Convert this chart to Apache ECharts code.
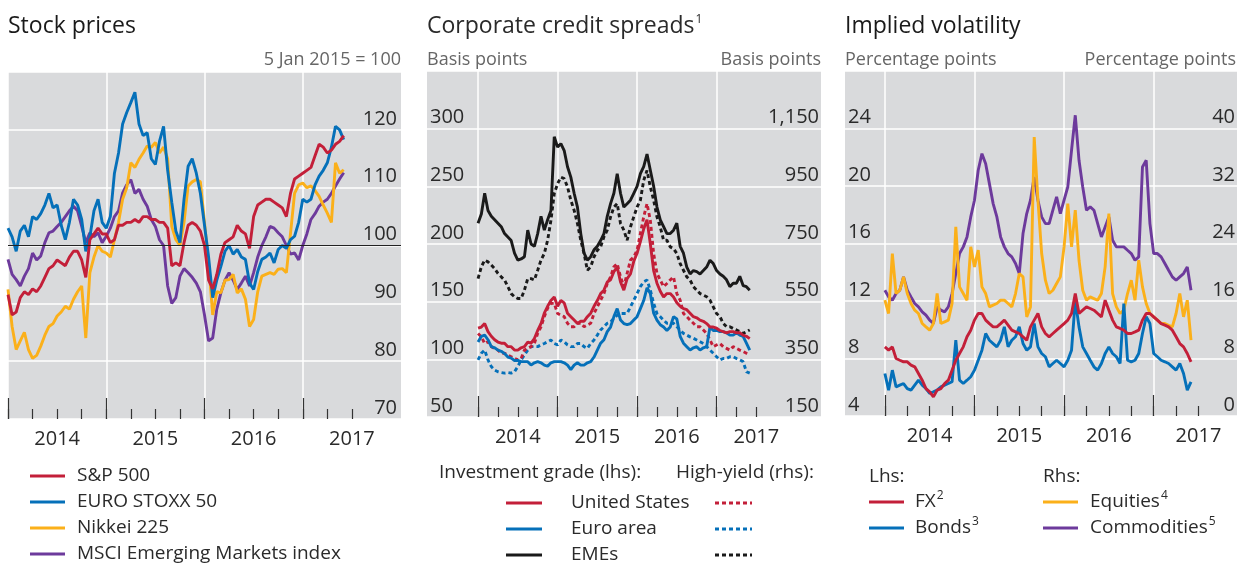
<!DOCTYPE html>
<html>
<head>
<meta charset="utf-8">
<title>Stock prices, credit spreads, implied volatility</title>
<script src="https://cdn.jsdelivr.net/npm/echarts@6/dist/echarts.min.js"></script>
<style>
  html, body { margin: 0; padding: 0; background: #fff; }
  #chart { width: 1238px; height: 563px; }
</style>
</head>
<body>
<div id="chart"></div>
<script>
// half-monthly readings, first value = 1 Jan 2014, last = 1 Jun 2017
var startYear = 2014;
var stepYears = 1 / 24;

// stock prices, 5 Jan 2015 = 100
var sp500 = [91.5, 88, 88.5, 91, 92, 91.5, 92.5, 92, 93, 94.5,
  96, 96.5, 97.5, 97, 96.5, 98, 99, 99, 97.5, 94.5,
  101, 102, 103, 102, 102, 100.5, 101, 103.5, 103.5, 104,
  104, 104.5, 104, 105, 105, 104.5, 104.5, 104, 104, 103,
  96.5, 97, 96.5, 100.5, 103.5, 104, 103.5, 102.5, 100, 94,
  92.5, 95, 98.5, 100.5, 101, 101.5, 103.5, 102.5, 102, 99.5,
  105, 107, 107.5, 108, 108, 107.5, 107, 106.5, 105, 109,
  111.5, 112, 112.5, 113, 113.5, 115.5, 117.5, 117, 116, 116.5,
  117.5, 118, 119];
var euroStoxx = [103, 101.5, 99, 102.5, 103.5, 101.5, 105, 104.5, 105.5, 107,
  109, 106.5, 107, 103.5, 101, 104, 108, 107, 104.5, 99,
  101.5, 106, 108, 104, 103, 105, 112.5, 116, 121, 123,
  124.7, 126.5, 121, 119, 119.5, 115, 114, 118, 120.6, 113,
  107.5, 102.5, 100.5, 108, 113.7, 115, 112.5, 109, 103.5, 98,
  91, 94, 96.4, 99, 100, 98.5, 99.3, 98, 97.6, 93.5,
  92.4, 95.5, 97.6, 98, 98.7, 97, 99.3, 100, 99.5, 101,
  101.6, 104, 108, 107.5, 108, 110.5, 112, 113, 114.3, 117,
  120.6, 120, 118.3];
var nikkei = [92.4, 86, 82, 83.5, 85, 82, 80.5, 81, 82.6, 84.5,
  86, 86.5, 87.8, 88.5, 89.5, 89, 90.7, 92, 93, 84,
  95.3, 98, 100, 99, 98.7, 98, 101, 104, 108, 110,
  114.3, 113.5, 114.9, 116, 117.2, 117, 117.8, 116, 117, 115,
  103.3, 101, 100, 104, 110.3, 111, 111.4, 111, 104, 97,
  88, 92, 91.8, 94, 94.1, 95, 91.8, 92.5, 90.7, 86,
  87.2, 92, 94.7, 95, 95.3, 95, 95.9, 96, 95.3, 102,
  109, 110.5, 110.8, 110, 110.3, 109.5, 108.5, 107, 105.6, 104,
  114.3, 112.5, 113.1];
var msciEm = [97.6, 95, 94.1, 93, 94.7, 96, 98.7, 97.5, 98.2, 100.5,
  102.2, 102.5, 103.3, 104, 105, 106, 106.8, 106, 103.3, 100.5,
  102.2, 101.5, 102.2, 100.5, 101.6, 103, 105, 106, 109.1, 110.5,
  111.4, 109, 109.7, 108, 106.8, 104.5, 103.3, 101, 100, 93,
  90, 91, 94.7, 96, 95.3, 94.5, 93.5, 92, 88, 83.5,
  84, 89, 91.8, 94, 95.3, 94, 92.4, 93.5, 94.7, 93,
  95.3, 98, 100, 101.5, 103.3, 103, 102.2, 101.5, 100, 98.5,
  98.7, 97.5, 100, 102, 104.5, 105.5, 106.8, 107.5, 108, 109,
  110.3, 111.5, 112.6];

// credit spreads, investment grade (lhs, bp)
var usIG = [127, 128, 131, 124, 120, 117, 115, 114, 114, 111,
  111, 108, 108, 110, 111, 115, 114, 118, 125, 131,
  140, 146, 151, 154, 146, 151, 149, 140, 137, 134,
  131, 133, 133, 137, 140, 146, 151, 157, 160, 167,
  169, 176, 180, 167, 160, 170, 174, 185, 192, 202,
  213, 221, 200, 177, 166, 159, 154, 157, 157, 154,
  149, 146, 144, 143, 140, 137, 136, 134, 133, 131,
  128, 128, 127, 125, 124, 123, 124, 124, 123, 123,
  121, 120, 118];
var euIG = [115, 120, 121, 117, 111, 110, 108, 107, 105, 102,
  101, 99, 99, 98, 98, 98, 95, 97, 98, 97,
  95, 94, 97, 98, 98, 98, 97, 95, 91, 95,
  97, 95, 95, 97, 98, 102, 108, 114, 117, 124,
  128, 137, 144, 134, 131, 130, 131, 134, 137, 144,
  151, 162, 157, 140, 134, 130, 128, 125, 128, 137,
  135, 120, 114, 111, 108, 110, 111, 108, 110, 111,
  128, 125, 125, 124, 124, 123, 121, 121, 123, 121,
  120, 114, 108];
var emeIG = [218, 226, 244, 229, 224, 221, 218, 215, 209, 206,
  203, 192, 186, 187, 189, 212, 200, 198, 209, 224,
  212, 221, 229, 293, 284, 287, 281, 267, 258, 244,
  232, 209, 192, 186, 189, 195, 198, 203, 209, 224,
  235, 244, 261, 244, 232, 235, 238, 244, 250, 261,
  267, 278, 264, 250, 232, 221, 215, 209, 209, 212,
  218, 198, 192, 180, 174, 177, 176, 174, 177, 180,
  186, 183, 177, 174, 172, 169, 163, 166, 166, 172,
  164, 163, 160];
// high-yield (rhs, bp)
var usHY = [440, 428, 405, 411, 394, 388, 382, 371, 371, 365,
  359, 353, 348, 353, 382, 388, 394, 405, 440, 463,
  498, 527, 544, 544, 509, 503, 498, 475, 463, 463,
  475, 475, 463, 469, 475, 509, 532, 555, 578, 613,
  636, 671, 682, 636, 602, 648, 694, 705, 729, 786,
  844, 890, 832, 717, 648, 625, 602, 613, 625, 636,
  578, 555, 509, 498, 486, 475, 463, 463, 452, 440,
  417, 394, 400, 405, 394, 388, 382, 394, 388, 382,
  377, 371, 365];
var euHY = [348, 371, 382, 348, 325, 313, 307, 304, 302, 304,
  302, 307, 325, 348, 365, 382, 394, 394, 394, 400,
  405, 411, 417, 405, 400, 417, 411, 400, 394, 394,
  405, 405, 394, 388, 405, 417, 434, 452, 463, 475,
  480, 492, 503, 509, 509, 509, 532, 555, 578, 602,
  619, 625, 590, 544, 509, 498, 486, 475, 475, 475,
  463, 452, 440, 434, 428, 423, 417, 411, 405, 394,
  382, 371, 359, 348, 353, 353, 359, 359, 353, 348,
  342, 307, 302];
var emeHY = [630, 671, 694, 688, 677, 665, 648, 636, 625, 602,
  578, 567, 561, 561, 590, 630, 630, 625, 659, 694,
  717, 763, 832, 925, 959, 982, 977, 948, 902, 867,
  821, 763, 717, 659, 671, 705, 728, 740, 775, 798,
  844, 878, 890, 821, 798, 763, 809, 844, 878, 902,
  971, 1005, 948, 902, 844, 809, 763, 763, 740, 734,
  717, 682, 659, 636, 625, 602, 590, 578, 573, 567,
  555, 532, 509, 498, 475, 463, 463, 457, 452, 446,
  440, 446, 452];

// implied volatility, lhs
var fx = [8.81, 8.58, 8.81, 8.0, 7.88, 7.77, 7.77, 7.54, 7.42, 6.96,
  6.49, 5.91, 5.68, 5.33, 5.8, 5.91, 6.26, 6.49, 7.19, 7.88,
  8.35, 8.81, 9.51, 9.97, 10.67, 11.13, 11.13, 10.67, 10.43, 10.2,
  10.2, 10.43, 10.67, 10.32, 9.97, 9.85, 9.74, 9.51, 9.27, 10.2,
  10.67, 11.13, 10.2, 9.74, 9.51, 9.74, 9.97, 10.2, 10.43, 10.67,
  11.13, 12.52, 11.13, 11.36, 11.59, 11.48, 11.36, 11.13, 10.9, 12.06,
  11.36, 10.67, 10.2, 10.09, 9.97, 9.74, 9.74, 9.85, 9.97, 10.67,
  11.13, 11.13, 10.9, 10.67, 10.43, 10.32, 10.2, 9.97, 9.51, 9.04,
  8.81, 8.35, 7.77];
var bonds = [6.96, 5.8, 7.19, 6.03, 6.15, 6.26, 5.91, 5.8, 6.15, 6.49,
  6.15, 5.91, 5.57, 5.68, 5.8, 6.03, 6.15, 6.26, 6.38, 9.27,
  6.49, 6.26, 6.49, 6.73, 7.19, 7.88, 8.58, 9.74, 9.27, 9.04,
  8.81, 9.27, 10.2, 8.81, 9.27, 9.51, 10.2, 9.04, 8.58, 8.81,
  10.43, 8.81, 8.35, 8.12, 7.42, 7.65, 7.88, 7.65, 7.42, 7.88,
  8.58, 12.06, 10.2, 8.81, 8.35, 7.88, 7.42, 7.19, 7.65, 8.35,
  8.81, 8.35, 8.12, 7.65, 11.82, 7.88, 7.77, 7.88, 8.35, 9.74,
  10.9, 10.43, 8.35, 8.12, 7.88, 7.77, 7.65, 7.42, 7.19, 7.65,
  6.96, 5.8, 6.38];
// rhs
var equities = [16.11, 14.26, 22.6, 17.04, 17.5, 19.36, 17.04, 15.65, 14.72, 14.26,
  12.87, 12.4, 11.94, 12.87, 17.04, 12.87, 13.1, 13.33, 15.65, 26.31,
  17.97, 17.04, 16.11, 23.53, 20.75, 23.07, 17.97, 17.04, 15.18, 15.42,
  15.65, 16.11, 16.11, 15.65, 15.18, 17.04, 19.82, 19.36, 13.79, 15.18,
  38.82, 30.02, 22.6, 18.89, 17.04, 17.5, 18.43, 19.36, 23.53, 29.55,
  23.53, 28.63, 21.67, 17.5, 16.11, 16.57, 16.34, 16.11, 17.04, 20.75,
  28.16, 17.04, 15.18, 14.26, 14.72, 17.04, 18.89, 16.11, 21.67, 17.97,
  15.65, 14.26, 13.79, 13.33, 12.87, 12.87, 12.63, 12.4, 14.26, 17.04,
  13.79, 16.11, 10.55];
var commodities = [17.5, 16.57, 16.11, 17.04, 17.5, 19.36, 17.5, 16.57, 15.65, 15.18,
  14.49, 14.03, 13.33, 12.87, 15.18, 14.72, 14.49, 15.18, 17.04, 19.82,
  22.6, 23.53, 24.92, 27.7, 30.02, 34.19, 36.5, 35.11, 32.33, 29.55,
  27.7, 24.92, 23.53, 22.6, 22.14, 21.21, 19.82, 25.38, 28.16, 30.02,
  33.26, 30.02, 27.7, 26.77, 26.77, 28.63, 30.48, 28.16, 30.02, 31.87,
  36.97, 41.84, 35.58, 31.87, 28.63, 29.09, 28.63, 26.77, 24.92, 26.31,
  27.7, 24.45, 23.53, 23.53, 23.53, 23.06, 22.6, 21.67, 22.14, 34.65,
  35.58, 26.77, 22.6, 22.6, 22.14, 21.21, 20.28, 19.36, 18.89, 19.36,
  19.82, 20.75, 17.5];

// x axis ticks and labels (in years)
var yearTicks = [2014, 2015, 2016, 2017];
var quarterTicks = [2014, 2014.25, 2014.5, 2014.75, 2015, 2015.25, 2015.5, 2015.75, 2016, 2016.25, 2016.5, 2016.75, 2017, 2017.25, 2017.5];
var yearLabelPos = [2014.5, 2015.5, 2016.5, 2017.5];

var RED = '#c31f39', BLUE = '#0570b9', ORANGE = '#fbb01a', PURPLE = '#6d3a9c', BLACK = '#1a1a1a';
var FONT = '"Open Sans", "Noto Sans", sans-serif';
var TEXT = '#2a2a2a';

function toPairs(arr) {
  return arr.map(function (v, i) { return [startYear + i * stepYears, v]; });
}

function lineSeries(name, arr, color, xi, yi, dashed) {
  return {
    name: name,
    type: 'line',
    xAxisIndex: xi,
    yAxisIndex: yi,
    data: toPairs(arr),
    showSymbol: false,
    symbol: 'none',
    silent: true,
    lineStyle: { color: color, width: 2.9, type: dashed ? [4, 3] : 'solid' }
  };
}

// two x axes per grid: long year ticks + gridlines, and quarter ticks + labels
function xAxes(gi, min, max) {
  return [{
    type: 'value', gridIndex: gi, min: min, max: max, position: 'bottom',
    axisLine: { show: false },
    axisTick: { show: true, inside: true, length: 21, customValues: yearTicks, lineStyle: { color: '#333', width: 1.2 } },
    axisLabel: { show: false },
    splitLine: { show: true, lineStyle: { color: '#fff', width: 1.5 } }
  }, {
    type: 'value', gridIndex: gi, min: min, max: max, position: 'bottom',
    axisLine: { show: false },
    axisTick: { show: true, inside: true, length: 10, customValues: quarterTicks, lineStyle: { color: '#333', width: 1.2 } },
    axisLabel: {
      show: true, customValues: yearLabelPos, margin: 10,
      formatter: function (v) { return String(Math.floor(v)); },
      fontFamily: FONT, fontSize: 20, color: TEXT
    },
    splitLine: { show: false }
  }];
}

function yAxis(gi, pos, min, max, interval, grid, margin) {
  return {
    type: 'value', gridIndex: gi, position: pos, min: min, max: max, interval: interval,
    axisLine: { show: false },
    axisTick: { show: false },
    axisLabel: {
      inside: true, margin: margin, showMaxLabel: false, verticalAlign: 'bottom', padding: [0, 0, 1, 0],
      fontFamily: FONT, fontSize: 20, color: TEXT,
      formatter: function (v) { return v >= 1000 ? v.toLocaleString('en-US') : String(v); }
    },
    splitLine: { show: grid, lineStyle: { color: '#fff', width: 1.5 } }
  };
}

function txt(x, y, text, size, color, align, rich) {
  return {
    type: 'text', x: x, y: y, silent: true,
    style: {
      text: text, fill: color, fontFamily: FONT, fontSize: size,
      align: align || 'left', verticalAlign: 'middle', rich: rich
    }
  };
}

function key(x1, x2, y, color, dashed) {
  return {
    type: 'line', silent: true,
    shape: { x1: x1, y1: y, x2: x2, y2: y },
    style: { stroke: color, lineWidth: 3, lineDash: dashed ? [4, 3] : null }
  };
}

function sup(t) {
  return {
    t: { fontFamily: FONT, fontSize: t, fill: TEXT },
    s: { fontFamily: FONT, fontSize: 12, fill: TEXT, padding: [0, 0, 12, 1] }
  };
}

var chart = echarts.init(document.getElementById('chart'));

var grids = [
  { left: 8, top: 72, width: 393, height: 347 },
  { left: 427, top: 71, width: 394, height: 346 },
  { left: 845, top: 71, width: 393, height: 345 }
].map(function (g) {
  g.show = true; g.backgroundColor = '#d9dadc'; g.borderWidth = 0; g.containLabel = false;
  return g;
});

var sp = lineSeries('S&P 500', sp500, RED, 0, 0);
// 100 reference line
sp.markLine = {
  silent: true, symbol: ['none', 'none'], animation: false,
  label: { show: false },
  lineStyle: { color: '#222', width: 1, type: 'solid' },
  data: [{ yAxis: 100 }]
};

var option = {
  animation: false,
  grid: grids,
  xAxis: [].concat(xAxes(0, 2014, 2018), xAxes(1, 2013.358, 2018.313), xAxes(2, 2013.555, 2017.93)),
  yAxis: [
    yAxis(0, 'right', 70, 130, 10, true, 4),
    yAxis(1, 'left', 50, 350, 50, true, 3),
    yAxis(1, 'right', 150, 1350, 200, false, 2),
    yAxis(2, 'left', 4, 28, 4, true, 3),
    yAxis(2, 'right', 0, 48, 8, false, 2)
  ],
  series: [
    lineSeries('MSCI Emerging Markets index', msciEm, PURPLE, 0, 0),
    lineSeries('Nikkei 225', nikkei, ORANGE, 0, 0),
    lineSeries('EURO STOXX 50', euroStoxx, BLUE, 0, 0),
    sp,
    lineSeries('High-yield EMEs', emeHY, BLACK, 2, 2, true),
    lineSeries('High-yield Euro area', euHY, BLUE, 2, 2, true),
    lineSeries('High-yield United States', usHY, RED, 2, 2, true),
    lineSeries('EMEs', emeIG, BLACK, 2, 1),
    lineSeries('Euro area', euIG, BLUE, 2, 1),
    lineSeries('United States', usIG, RED, 2, 1),
    lineSeries('Commodities', commodities, PURPLE, 4, 4),
    lineSeries('Equities', equities, ORANGE, 4, 4),
    lineSeries('Bonds', bonds, BLUE, 4, 3),
    lineSeries('FX', fx, RED, 4, 3)
  ],
  graphic: [
    // titles
    txt(8, 26, 'Stock prices', 23, '#1a1a1a'),
    txt(427, 26, '{t|Corporate credit spreads}{s|1}', 23, '#1a1a1a', 'left', sup(23)),
    txt(845, 26, 'Implied volatility', 23, '#1a1a1a'),
    // units
    txt(401, 60, '5 Jan 2015 = 100', 18, '#666', 'right'),
    txt(427, 60, 'Basis points', 18, '#666'),
    txt(821, 60, 'Basis points', 18, '#666', 'right'),
    txt(845, 60, 'Percentage points', 18, '#666'),
    txt(1236, 60, 'Percentage points', 18, '#666', 'right'),
    // legend, stock prices
    key(30, 65, 476, RED), txt(77, 476, 'S&P 500', 19, TEXT),
    key(30, 65, 502, BLUE), txt(77, 502, 'EURO STOXX 50', 19, TEXT),
    key(30, 65, 528, ORANGE), txt(77, 528, 'Nikkei 225', 19, TEXT),
    key(30, 65, 554, PURPLE), txt(77, 554, 'MSCI Emerging Markets index', 19, TEXT),
    // legend, credit spreads
    txt(439, 473, 'Investment grade (lhs):', 19, TEXT),
    txt(676, 473, 'High-yield (rhs):', 19, TEXT),
    key(506, 542, 503, RED), txt(571, 503, 'United States', 19, TEXT), key(715, 752, 503, RED, true),
    key(506, 542, 529, BLUE), txt(571, 529, 'Euro area', 19, TEXT), key(715, 752, 529, BLUE, true),
    key(506, 542, 555, BLACK), txt(571, 555, 'EMEs', 19, TEXT), key(715, 752, 555, BLACK, true),
    // legend, implied volatility
    txt(869, 477, 'Lhs:', 19, TEXT),
    txt(1043, 477, 'Rhs:', 19, TEXT),
    key(869, 904, 502, RED), txt(915, 502, '{t|FX}{s|2}', 19, TEXT, 'left', sup(19)),
    key(869, 904, 528, BLUE), txt(915, 528, '{t|Bonds}{s|3}', 19, TEXT, 'left', sup(19)),
    key(1043, 1078, 502, ORANGE), txt(1090, 502, '{t|Equities}{s|4}', 19, TEXT, 'left', sup(19)),
    key(1043, 1078, 528, PURPLE), txt(1090, 528, '{t|Commodities}{s|5}', 19, TEXT, 'left', sup(19))
  ]
};

chart.setOption(option);
</script>
</body>
</html>
